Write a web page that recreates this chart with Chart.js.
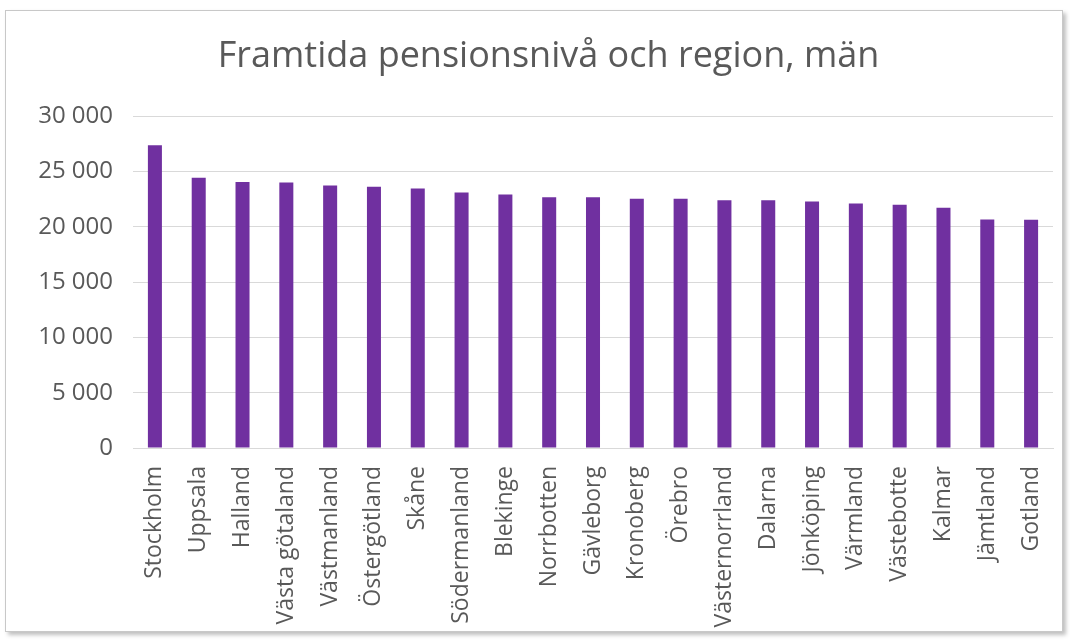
<!DOCTYPE html>
<html lang="sv">
<head>
    <meta charset="UTF-8">
    <title>Framtida pensionsnivå och region, män</title>
    <script src="https://cdn.jsdelivr.net/npm/chart.js"></script>
    <style>
        body { margin: 0; background: #fff; }
        .frame {
            position: absolute; left: 5px; top: 10px;
            width: 1056px; height: 620px;
            border: 1px solid #c8c8c8;
            box-shadow: 3px 3px 4px rgba(0,0,0,0.25);
            background: #fff;
        }
    </style>
</head>
<body>
    <div class="frame">
        <canvas id="chart" width="1056" height="620"></canvas>
    </div>

    <script>
        const regions = ['Stockholm', 'Uppsala', 'Halland', 'Västa götaland', 'Västmanland', 'Östergötland',
            'Skåne', 'Södermanland', 'Blekinge', 'Norrbotten', 'Gävleborg', 'Kronoberg', 'Örebro',
            'Västernorrland', 'Dalarna', 'Jönköping', 'Värmland', 'Västebotte', 'Kalmar', 'Jämtland', 'Gotland'];
        const pension = [27380, 24430, 24040, 24010, 23740, 23610, 23470, 23100, 22930, 22680, 22680,
            22530, 22530, 22410, 22410, 22290, 22110, 21990, 21720, 20670, 20640];
        const yTicks = [0, 5000, 10000, 15000, 20000, 25000, 30000];

        const fmt = v => v >= 1000 ? Math.floor(v / 1000) + ' ' + String(v % 1000).padStart(3, '0') : String(v);

        // nudge the title a bit right, like in the original
        const titleShift = {
            id: 'titleShift',
            afterLayout(chart) {
                if (chart.titleBlock) {
                    chart.titleBlock.left += 19;
                    chart.titleBlock.right += 19;
                }
            }
        };

        new Chart(document.getElementById('chart'), {
            type: 'bar',
            data: {
                labels: regions,
                datasets: [{
                    data: pension,
                    backgroundColor: '#7030a0',
                    barPercentage: 0.32,
                    categoryPercentage: 1.0
                }]
            },
            plugins: [titleShift],
            options: {
                responsive: false,
                animation: false,
                layout: { padding: { left: 0, right: 9, top: 0, bottom: 0 } },
                plugins: {
                    legend: { display: false },
                    tooltip: { enabled: false },
                    title: {
                        display: true,
                        text: 'Framtida pensionsnivå och region, män',
                        color: '#595959',
                        font: { family: 'Open Sans', size: 36, weight: 'normal' },
                        padding: { top: 24, bottom: 38 }
                    }
                },
                scales: {
                    x: {
                        grid: { display: false },
                        border: { color: '#d9d9d9' },
                        ticks: {
                            color: '#595959',
                            font: { family: 'Open Sans', size: 23 },
                            minRotation: 90, maxRotation: 90,
                            autoSkip: false,
                            padding: 10
                        },
                        afterFit: s => {
                            s.height = 183;
                            s.paddingLeft = 0;
                            s.paddingRight = 0;
                        }
                    },
                    y: {
                        min: 0, max: 30000,
                        afterBuildTicks: s => { s.ticks = yTicks.map(v => ({ value: v })); },
                        grid: { color: '#d9d9d9', drawTicks: false },
                        border: { display: false },
                        ticks: {
                            color: '#595959',
                            font: { family: 'Open Sans', size: 24 },
                            padding: 20,
                            callback: v => fmt(v)
                        },
                        afterFit: s => { s.width = 127; }
                    }
                }
            }
        });
    </script>
</body>
</html>
